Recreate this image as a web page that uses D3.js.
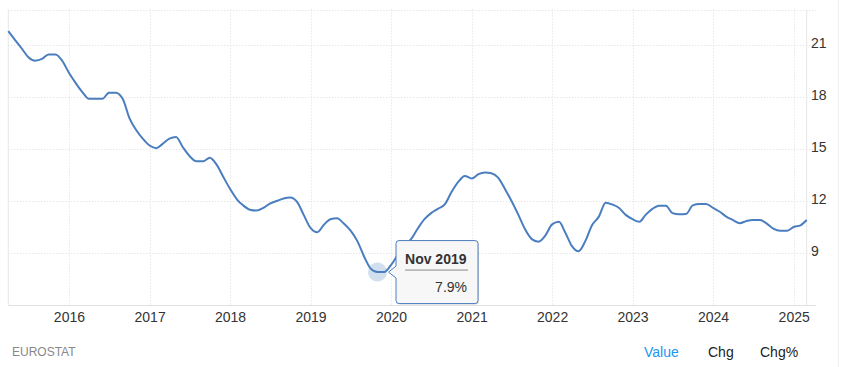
<!DOCTYPE html>
<html>
<head>
<meta charset="utf-8">
<script src="https://cdn.jsdelivr.net/npm/d3@7"></script>
<style>
  body { margin: 0; background: #fff; }
  svg { font-family: "Liberation Sans", Arial, sans-serif; }
</style>
</head>
<body>
<div id="chart"></div>
<script>
let w = 847,
    h = 367

// monthly values, Apr 2015 .. Mar 2025
let startMonth = '2015-04'
let values = [
  21.8, 21.3, 20.8, 20.3, 20.1, 20.2, 20.45, 20.45, 20.1,
  19.4, 18.8, 18.3, 17.9, 17.9, 17.9, 18.25, 18.25, 17.9, 16.8, 16.1, 15.6,
  15.2, 15.05, 15.3, 15.6, 15.7, 15.1, 14.6, 14.3, 14.3, 14.5, 14.1, 13.4,
  12.7, 12.1, 11.75, 11.5, 11.45, 11.6, 11.85, 12.0, 12.15, 12.2, 11.95, 11.2,
  10.45, 10.2, 10.6, 10.95, 11.0, 10.7, 10.3, 9.7, 8.8, 8.1, 7.9, 7.9,
  8.3, 8.9, 9.4, 9.8, 10.4, 10.95, 11.3, 11.55, 11.8, 12.5, 13.1, 13.45,
  13.3, 13.55, 13.65, 13.6, 13.35, 12.7, 12.0, 11.2, 10.35, 9.8, 9.65, 10.0,
  10.65, 10.8, 10.2, 9.4, 9.1, 9.7, 10.6, 11.1, 11.9, 11.8, 11.6, 11.2,
  10.95, 10.8, 11.2, 11.55, 11.73, 11.73, 11.3, 11.23, 11.25, 11.75, 11.83, 11.83,
  11.6, 11.38, 11.1, 10.9, 10.72, 10.85, 10.9, 10.9, 10.7, 10.4, 10.28, 10.28,
  10.5, 10.6, 10.9
]
let yTicks = [9, 12, 15, 18, 21]
let yearTicks = [2016, 2017, 2018, 2019, 2020, 2021, 2022, 2023, 2024, 2025]
let tipIndex = 55
let source = 'EUROSTAT'
let buttons = ['Value', 'Chg', 'Chg%']

let parseMonth = d3.timeParse('%Y-%m')
let t0 = parseMonth(startMonth)
let data = values.map((v, i) => ({ date: d3.timeMonth.offset(t0, i), value: v }))

let pLeft = 8.3, pRight = 806.7, pTop = 9.5, pBottom = 305

let x = d3.scaleTime()
    .domain(d3.extent(data, d => d.date))
    .range([pLeft, pRight])
let y = d3.scaleLinear()
    .domain([6, 23.05])
    .range([pBottom, pTop])

let svg = d3.select('#chart')
    .append('svg')
    .attr('width', w)
    .attr('height', h)

// outer faint divider
svg.append('line')
    .attr('x1', 838.5).attr('x2', 838.5)
    .attr('y1', 0).attr('y2', h)
    .attr('stroke', '#f0f0f0')

// horizontal grid
svg.append('g')
    .selectAll('line')
    .data(yTicks.concat([y.domain()[1]]))
    .enter()
    .append('line')
    .attr('x1', pLeft)
    .attr('x2', 816)
    .attr('y1', d => Math.round(y(d)) + 0.5)
    .attr('y2', d => Math.round(y(d)) + 0.5)
    .attr('stroke', '#dcdcdc')
    .attr('stroke-dasharray', '1,2')

// vertical grid
svg.append('g')
    .selectAll('line')
    .data(yearTicks)
    .enter()
    .append('line')
    .attr('x1', d => Math.round(x(new Date(d, 0, 1))) + 0.5)
    .attr('x2', d => Math.round(x(new Date(d, 0, 1))) + 0.5)
    .attr('y1', pTop)
    .attr('y2', pBottom)
    .attr('stroke', '#dcdcdc')
    .attr('stroke-dasharray', '1,2')

// plot borders
svg.append('line')
    .attr('x1', pLeft).attr('x2', pLeft)
    .attr('y1', pTop).attr('y2', pBottom)
    .attr('stroke', '#e6e6e6')
svg.append('line')
    .attr('x1', pRight).attr('x2', pRight)
    .attr('y1', pTop).attr('y2', pBottom)
    .attr('stroke', '#e6e6e6')
svg.append('line')
    .attr('x1', pLeft).attr('x2', 816)
    .attr('y1', pBottom + 0.5).attr('y2', pBottom + 0.5)
    .attr('stroke', '#e0e0e0')

// x labels
let xAxis = d3.axisBottom(x)
    .tickValues(yearTicks.map(d => new Date(d, 0, 1)))
    .tickFormat(d3.timeFormat('%Y'))
    .tickSize(0)
    .tickPadding(7)
let gx = svg.append('g')
    .attr('transform', `translate(0,${pBottom})`)
    .call(xAxis)
gx.select('.domain').remove()
gx.selectAll('text')
    .attr('font-size', 14)
    .attr('fill', '#333')
    .attr('font-family', '"Liberation Sans", Arial, sans-serif')

// y labels
let yAxis = d3.axisRight(y)
    .tickValues(yTicks)
    .tickSize(0)
    .tickPadding(0)
let gy = svg.append('g')
    .attr('transform', `translate(811,-2)`)
    .call(yAxis)
gy.select('.domain').remove()
gy.selectAll('text')
    .attr('font-size', 14)
    .attr('fill', '#333')
    .attr('font-family', '"Liberation Sans", Arial, sans-serif')

// line
let line = d3.line()
    .x(d => x(d.date))
    .y(d => y(d.value))
    .curve(d3.curveMonotoneX)

svg.append('path')
    .attr('d', line(data))
    .attr('fill', 'none')
    .attr('stroke', '#4a7ebf')
    .attr('stroke-width', 2)
    .attr('stroke-linejoin', 'round')

// hover halo
let tp = data[tipIndex]
let px = x(tp.date), py = y(tp.value)
svg.append('circle')
    .attr('cx', px)
    .attr('cy', py)
    .attr('r', 9.5)
    .attr('fill', '#4a7ebf')
    .attr('fill-opacity', 0.25)

// tooltip
let tx = px + 18.5, ty = py - 31.5, tw = 82, th = 63
let tipPath = `M${tx + 3},${ty} H${tx + tw - 3} Q${tx + tw},${ty} ${tx + tw},${ty + 3} V${ty + th - 3} Q${tx + tw},${ty + th} ${tx + tw - 3},${ty + th} H${tx + 3} Q${tx},${ty + th} ${tx},${ty + th - 3} V${py + 6} L${px + 11},${py} L${tx},${py - 6} V${ty + 3} Q${tx},${ty} ${tx + 3},${ty} Z`
let tip = svg.append('g')
tip.append('path')
    .attr('d', tipPath)
    .attr('transform', 'translate(1,1)')
    .attr('fill', 'rgba(0,0,0,0.12)')
tip.append('path')
    .attr('d', tipPath)
    .attr('fill', '#f7f7f7')
    .attr('stroke', '#4a7ebf')
    .attr('stroke-width', 1)
tip.append('text')
    .attr('x', tx + 9)
    .attr('y', ty + 23)
    .attr('font-size', 14)
    .attr('font-weight', 'bold')
    .attr('fill', '#333')
    .text(d3.timeFormat('%b %Y')(tp.date))
tip.append('line')
    .attr('x1', tx + 9).attr('x2', tx + 72)
    .attr('y1', ty + 29.5).attr('y2', ty + 29.5)
    .attr('stroke', '#888')
tip.append('text')
    .attr('x', tx + 71)
    .attr('y', ty + 51)
    .attr('font-size', 14)
    .attr('text-anchor', 'end')
    .attr('fill', '#333')
    .text(tp.value + '%')

// footer
svg.append('text')
    .attr('x', 12)
    .attr('y', 356)
    .attr('font-size', 12)
    .attr('fill', '#888')
    .text(source)

let bx = [644, 708, 760]
svg.selectAll('.btn')
    .data(buttons)
    .enter()
    .append('text')
    .attr('class', 'btn')
    .attr('x', (d, i) => bx[i])
    .attr('y', 357)
    .attr('font-size', 14)
    .attr('fill', (d, i) => i === 0 ? '#2196f3' : '#222')
    .text(d => d)
</script>
</body>
</html>
